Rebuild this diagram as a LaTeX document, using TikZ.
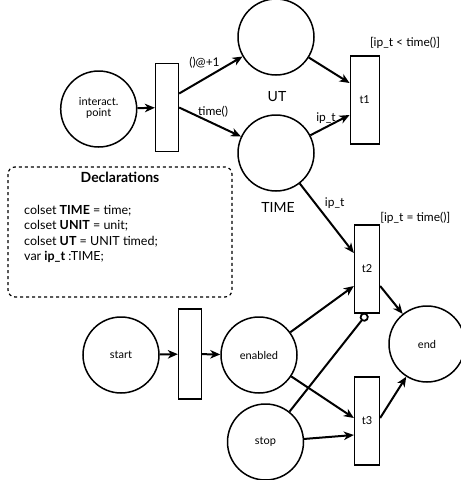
\documentclass[tikz,border=0pt]{standalone}
\usepackage{fontspec}
\setmainfont{Lato}
\usetikzlibrary{arrows.meta}
\begin{document}
\begin{tikzpicture}[x=1pt,y=-1pt,
  place/.style={draw, line width=1.5pt, circle, minimum size=76pt, inner sep=0pt, font=\fontsize{11}{12}\selectfont},
  trans/.style={draw, line width=1.3pt, rectangle, minimum width=#1, minimum height=88pt, inner sep=0pt, font=\fontsize{11}{12}\selectfont},
  trans/.default=23pt,
  arc/.style={line width=2pt, -{Stealth[length=10pt,width=8.5pt,inset=3pt]}},
  inhib/.style={line width=2pt, -{Circle[open,length=9pt,width=9pt,line width=1.8pt]}},
  lbl/.style={font=\fontsize{12}{13}\selectfont, inner sep=1pt},
  glbl/.style={font=\fontsize{12}{13}\selectfont, inner sep=1pt},
  biglbl/.style={font=\fontsize{14}{16}\selectfont, inner sep=1pt},
  decl/.style={draw, line width=1.2pt, dashed, rounded corners=7pt}
]
\useasboundingbox (0,0) rectangle (461,480);
% places
\node[place] (ip) at (98.7,109) {\begin{tabular}{@{}c@{}}interact.\\[-1pt] point\end{tabular}};
\node[place] (UT) at (276,37) {};
\node[place] (TIME) at (276,153) {};
\node[place] (start) at (121,355) {start};
\node[place] (enabled) at (259,355) {enabled};
\node[place] (stop) at (265.5,442) {stop};
\node[place] (end) at (427,344) {end};
% transitions
\node[trans=23pt] (tr1) at (167,107.5) {};
\node[trans=29pt] (t1) at (364.7,100) {t1};
\node[trans=25pt] (t2) at (367,269) {t2};
\node[trans=23pt, minimum height=90pt] (tr2) at (190,354) {};
\node[trans=25pt] (t3) at (367,421) {t3};
% place labels
\node[biglbl] (UTl) at (277,97) {UT};
\node[biglbl] (TIMEl) at (278,207) {TIME};
% guards
\node[glbl, anchor=south] (g1) at (405,50) {[ip\_t < time()]};
\node[glbl, anchor=south west] (g2) at ([xshift=-1pt]t2.north east) {[ip\_t = time()]};
% arcs
\draw[arc] (ip) -- (tr1);
\draw[arc] ([yshift=14pt]tr1.east) -- node[lbl, pos=0.4, above=8pt] {()@+1} (UT);
\draw[arc] (tr1.east) -- node[lbl, pos=0.55, above=4pt] {time()} (TIME);
\draw[arc] (UT) -- ([yshift=17pt]t1.west);
\draw[arc] (TIME) -- node[lbl, pos=0.4, above=2pt] {ip\_t} ([yshift=-15pt]t1.west);
\draw[arc] (TIME) -- node[lbl, pos=0.28, right=8pt] {ip\_t} ([yshift=16pt]t2.west);
\draw[arc] (enabled) -- ([yshift=-17pt]t2.west);
\draw[arc] ([yshift=-17pt]t2.east) -- (end);
\draw[arc] (enabled) -- ([yshift=3pt]t3.west);
\draw[arc] (stop) -- ([yshift=-14pt]t3.west);
\draw[arc] ([yshift=3pt]t3.east) -- (end);
\draw[inhib] (stop) -- (t2.south);
\draw[arc] (start) -- (tr2);
\draw[arc] (tr2) -- (enabled);
% declarations
\draw[decl] (8,167) rectangle (232,297);
\node[font=\fontsize{14}{16}\selectfont\bfseries, inner sep=0pt] (dtitle) at (120,177) {Declarations};
\node[font=\fontsize{12.5}{15.4}\selectfont, anchor=north west, inner sep=0pt, align=left] (dbody) at (24,205)
 {colset \textbf{TIME} = time;\\ colset \textbf{UNIT} = unit;\\ colset \textbf{UT} = UNIT timed;\\ var \textbf{ip\_t} :TIME;};
\end{tikzpicture}
\end{document}
